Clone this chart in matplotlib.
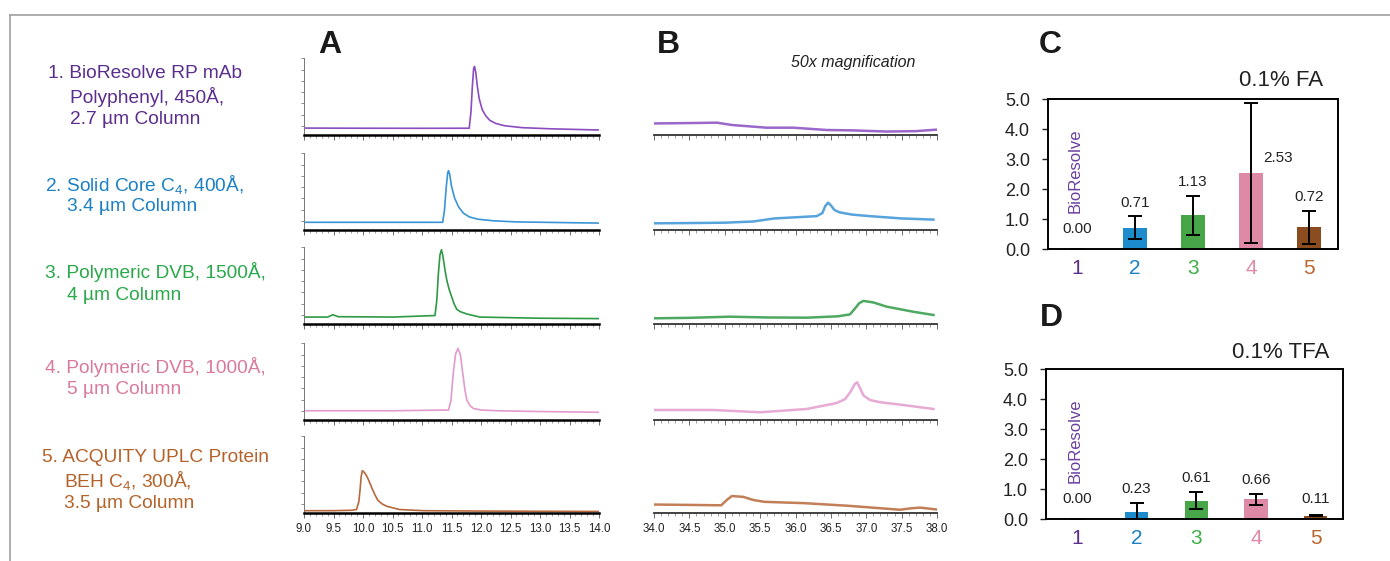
import numpy as np
import matplotlib.pyplot as plt
from matplotlib.lines import Line2D
from matplotlib.ticker import MultipleLocator

plt.rcParams['font.family'] = ['Liberation Sans', 'DejaVu Sans']
plt.rcParams['mathtext.fontset'] = 'custom'
plt.rcParams['mathtext.rm'] = 'Liberation Sans'
plt.rcParams['mathtext.it'] = 'Liberation Sans:italic'

# ---- data -----------------------------------------------------------------
column_names = [
    ["1. BioResolve RP mAb", "Polyphenyl, 450Å,", "2.7 µm Column"],
    ["2. Solid Core C$_4$, 400Å,", "3.4 µm Column"],
    ["3. Polymeric DVB, 1500Å,", "4 µm Column"],
    ["4. Polymeric DVB, 1000Å,", "5 µm Column"],
    ["5. ACQUITY UPLC Protein", "BEH C$_4$, 300Å,", "3.5 µm Column"],
]

# panel A: full chromatograms (time in min, relative signal)
a1_t = [9.0, 10.0, 11.0, 11.80, 11.83, 11.855, 11.875, 11.89, 11.91, 11.94, 11.97, 12.02,
        12.08, 12.15, 12.25, 12.4, 12.7, 13.2, 14.0]
a1_y = [0.09, 0.088, 0.087, 0.088, 0.3, 0.65, 0.86, 0.89, 0.82, 0.62, 0.47, 0.33,
        0.25, 0.19, 0.15, 0.12, 0.095, 0.08, 0.065]
a2_t = [9.0, 10.5, 11.35, 11.38, 11.41, 11.435, 11.45, 11.47, 11.5, 11.55, 11.62, 11.7,
        11.8, 11.95, 12.2, 12.6, 13.5, 14.0]
a2_y = [0.10, 0.10, 0.10, 0.25, 0.55, 0.74, 0.77, 0.72, 0.57, 0.42, 0.3, 0.22,
        0.17, 0.14, 0.12, 0.105, 0.095, 0.09]
a3_t = [9.0, 9.4, 9.49, 9.58, 10.5, 11.22, 11.25, 11.28, 11.305, 11.33, 11.355, 11.39,
        11.42, 11.46, 11.50, 11.545, 11.59, 11.65, 11.76, 11.98, 13.0, 14.0]
a3_y = [0.09, 0.09, 0.12, 0.095, 0.09, 0.11, 0.3, 0.68, 0.9, 0.965, 0.88, 0.7,
        0.57, 0.45, 0.36, 0.26, 0.19, 0.16, 0.13, 0.09, 0.075, 0.07]
a4_t = [9.0, 10.5, 11.45, 11.49, 11.53, 11.57, 11.61, 11.65, 11.69, 11.73, 11.76, 11.81,
        11.87, 12.0, 12.27, 13.0, 14.0]
a4_y = [0.12, 0.12, 0.13, 0.25, 0.61, 0.86, 0.93, 0.85, 0.61, 0.38, 0.26, 0.19,
        0.15, 0.13, 0.12, 0.11, 0.10]
a5_t = [9.0, 9.5, 9.8, 9.89, 9.93, 9.95, 9.97, 9.99, 10.03, 10.07, 10.11, 10.15, 10.2,
        10.25, 10.32, 10.4, 10.62, 11.02, 12.0, 14.0]
a5_y = [0.03, 0.03, 0.035, 0.045, 0.15, 0.3, 0.48, 0.55, 0.52, 0.47, 0.4, 0.325, 0.24,
        0.167, 0.12, 0.088, 0.045, 0.03, 0.025, 0.02]

# panel B: late-eluting region, 50x magnification
b1_t = [34.0, 34.5, 34.89, 35.1, 35.59, 35.97, 36.44, 36.8, 37.29, 37.7, 38.0]
b1_y = [0.15, 0.155, 0.16, 0.13, 0.095, 0.095, 0.065, 0.06, 0.045, 0.05, 0.07]
b2_t = [34.0, 34.5, 35.0, 35.4, 35.7, 36.0, 36.3, 36.38, 36.42, 36.46, 36.5, 36.55,
        36.62, 36.8, 37.05, 37.5, 37.95]
b2_y = [0.087, 0.09, 0.095, 0.11, 0.15, 0.165, 0.18, 0.22, 0.31, 0.355, 0.32, 0.26,
        0.23, 0.20, 0.18, 0.15, 0.135]
b3_t = [34.0, 34.5, 35.07, 35.6, 36.16, 36.6, 36.77, 36.84, 36.9, 36.96, 37.1, 37.29,
        37.66, 37.95]
b3_y = [0.074, 0.08, 0.095, 0.085, 0.082, 0.1, 0.125, 0.2, 0.27, 0.30, 0.28, 0.225,
        0.16, 0.117]
b4_t = [34.0, 34.84, 35.5, 36.16, 36.58, 36.7, 36.78, 36.84, 36.87, 36.91, 36.96, 37.05,
        37.2, 37.52, 37.95]
b4_y = [0.13, 0.13, 0.10, 0.143, 0.22, 0.27, 0.37, 0.47, 0.49, 0.42, 0.32, 0.26,
        0.23, 0.195, 0.143]
b5_t = [34.0, 34.5, 34.95, 35.03, 35.1, 35.26, 35.4, 35.56, 36.12, 36.74, 37.48, 37.62,
        37.76, 38.0]
b5_y = [0.11, 0.105, 0.10, 0.17, 0.22, 0.21, 0.17, 0.145, 0.128, 0.094, 0.042, 0.06,
        0.07, 0.045]

# panels C / D: bar values with error
samples = ["1", "2", "3", "4", "5"]
fa_mean = [0.00, 0.71, 1.13, 2.53, 0.72]
fa_err = [0.00, 0.38, 0.65, 2.34, 0.55]
tfa_mean = [0.00, 0.23, 0.61, 0.66, 0.11]
tfa_err = [0.00, 0.31, 0.29, 0.19, 0.01]

# ---- styles ---------------------------------------------------------------
text_colors = ["#5b2d8e", "#1b80c4", "#2aa84a", "#d97a9c", "#b5622a"]
trace_colors = ["#8a4cbf", "#3a94d6", "#2e9a45", "#e29bcd", "#b8683a"]
bar_colors = ["#5b2d8e", "#1c8ccc", "#46a648", "#de8aa6", "#8b4c1f"]
tick_colors = ["#5b2d8e", "#1b80c4", "#3fae49", "#de8aa6", "#b9652d"]

W, H = 1390, 561
fig = plt.figure(figsize=(W / 100, H / 100), dpi=100)


def px_axes(left, top, right, bottom):
    return fig.add_axes([left / W, 1 - bottom / H, (right - left) / W, (bottom - top) / H])


# outer frame lines
fig.add_artist(Line2D([10 / W, 1], [1 - 15 / H] * 2, color="#a0a0a0", lw=1.2))
fig.add_artist(Line2D([10 / W] * 2, [0, 1 - 15 / H], color="#a0a0a0", lw=1.2))

row_bottoms = [135, 230, 324, 420, 513]
row_h = 77
label_rows = [74, 184, 272, 367, 457]
label_x = [48, 45, 45, 45, 42]
indent = [70, 67, 67, 67, 64]

for i, lines in enumerate(column_names):
    for j, s in enumerate(lines):
        x = label_x[i] if j == 0 else indent[i]
        fig.text(x / W, 1 - (label_rows[i] + 23 * j) / H, s, color=text_colors[i],
                 fontsize=13.8, va="center", ha="left")

a_traces = [(a1_t, a1_y), (a2_t, a2_y), (a3_t, a3_y), (a4_t, a4_y), (a5_t, a5_y)]
b_traces = [(b1_t, b1_y), (b2_t, b2_y), (b3_t, b3_y), (b4_t, b4_y), (b5_t, b5_y)]

for i in range(5):
    bot = row_bottoms[i]
    # panel A
    ax = px_axes(304, bot - row_h, 599, bot)
    t, y = a_traces[i]
    ax.plot(t, y, color=trace_colors[i], lw=1.2)
    ax.set_xlim(9.0, 14.0)
    ax.set_ylim(0, 1)
    ax.spines[["top", "right"]].set_visible(False)
    ax.spines["left"].set_color("#777777")
    ax.spines["left"].set_linewidth(0.7)
    ax.spines["bottom"].set_linewidth(1.8)
    ax.set_yticks(np.arange(0.12, 1.01, 0.146))
    ax.tick_params(axis="y", length=2, width=0.6, color="#777777", labelleft=False)
    ax.xaxis.set_major_locator(MultipleLocator(0.5))
    ax.xaxis.set_minor_locator(MultipleLocator(0.1))
    ax.tick_params(axis="x", which="major", length=3.5, width=0.6, color="#555555",
                   labelsize=8.3, pad=3.5, labelbottom=(i == 4), labelcolor="#222222")
    ax.tick_params(axis="x", which="minor", length=2, width=0.5, color="#777777")
    if i == 4:
        ax.xaxis.set_major_formatter(lambda v, p: f"{v:.1f}")

    # panel B
    bx = px_axes(654, bot - row_h, 937, bot)
    t, y = b_traces[i]
    bx.plot(t, y, color=trace_colors[i], lw=1.8, alpha=0.85)
    bx.set_xlim(34.0, 38.0)
    bx.set_ylim(0, 1)
    bx.spines[["top", "right", "left"]].set_visible(False)
    bx.spines["bottom"].set_linewidth(1.3)
    bx.spines["bottom"].set_color("#333333")
    bx.set_yticks([])
    bx.xaxis.set_major_locator(MultipleLocator(0.5))
    bx.xaxis.set_minor_locator(MultipleLocator(0.1))
    bx.tick_params(axis="x", which="major", length=3.5, width=0.6, color="#555555",
                   labelsize=8.3, pad=3.5, labelbottom=(i == 4), labelcolor="#222222")
    bx.tick_params(axis="x", which="minor", length=2, width=0.5, color="#777777")
    if i == 4:
        bx.xaxis.set_major_formatter(lambda v, p: f"{v:.1f}")

fig.text(330 / W, 1 - 45 / H, "A", fontsize=23, fontweight="bold", ha="center", va="center",
         color="#1a1a1a")
fig.text(668 / W, 1 - 45 / H, "B", fontsize=23, fontweight="bold", ha="center", va="center",
         color="#1a1a1a")
fig.text(853 / W, 1 - 62 / H, "50x magnification", fontsize=11.5, style="italic",
         ha="center", va="center", color="#222222")


def bar_panel(box, xlim, width, means, errs, title, title_xy, letter_xy, letter):
    ax = px_axes(*box)
    x = np.arange(1, len(samples) + 1)
    ax.bar(x, means, width=width, color=bar_colors)
    ax.errorbar(x, means, yerr=errs, fmt="none", ecolor="black", elinewidth=1.4,
                capsize=5, capthick=1.4)
    ax.set_xlim(*xlim)
    ax.set_ylim(0, 5.0)
    ax.set_yticks(np.arange(0, 5.01, 1.0))
    ax.yaxis.set_major_formatter(lambda v, p: f"{v:.1f}")
    ax.set_xticks(x)
    ax.set_xticklabels(samples)
    for lab, c in zip(ax.get_xticklabels(), tick_colors):
        lab.set_color(c)
    ax.tick_params(axis="x", length=0, pad=7, labelsize=15)
    ax.tick_params(axis="y", length=4, width=1, pad=9, labelsize=13, colors="#222222")
    for s in ax.spines.values():
        s.set_linewidth(1.4)
    for xi, m, e in zip(x, means, errs):
        if m > 2:
            ax.text(xi + 0.46, m + 0.52, f"{m:.2f}", ha="center", va="center", fontsize=11,
                    color="#222222")
        else:
            ax.text(xi, max(m + e + 0.45, 0.68), f"{m:.2f}", ha="center", va="center",
                    fontsize=11, color="#222222")
    ax.text(0.97, 2.6, "BioResolve", rotation=90, ha="center", va="center", fontsize=12,
            color="#6a3fa0")
    fig.text(title_xy[0] / W, 1 - title_xy[1] / H, title, fontsize=16, ha="center",
             va="center", color="#222222")
    fig.text(letter_xy[0] / W, 1 - letter_xy[1] / H, letter, fontsize=23,
             fontweight="bold", ha="center", va="center", color="#1a1a1a")


bar_panel((1048, 99, 1338, 249), (0.5, 5.5), 0.41, fa_mean, fa_err, "0.1% FA",
          (1281, 81), (1050, 45), "C")
bar_panel((1046, 369, 1343, 519), (0.48, 5.46), 0.39, tfa_mean, tfa_err, "0.1% TFA",
          (1281, 353), (1051, 318), "D")

fig.savefig("out.png", dpi=100)
